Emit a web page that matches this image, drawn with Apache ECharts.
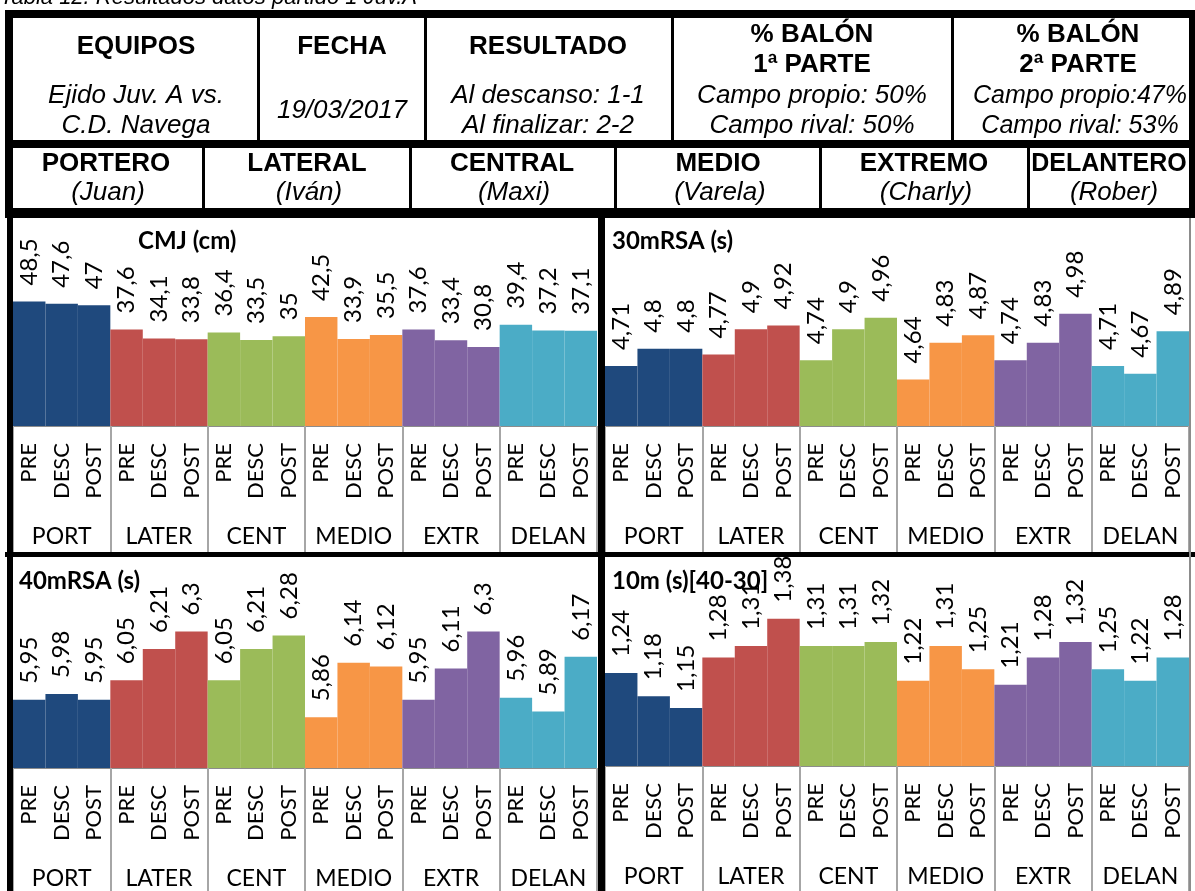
<!DOCTYPE html>
<html>
<head>
<meta charset="utf-8">
<script src="https://cdn.jsdelivr.net/npm/echarts@6/dist/echarts.min.js"></script>
<style>
  html, body { margin: 0; padding: 0; background: #fff; }
  #main { width: 1195px; height: 891px; }
</style>
</head>
<body>
<div id="main"></div>
<script>
// data
const groups = ['PORT', 'LATER', 'CENT', 'MEDIO', 'EXTR', 'DELAN'];
const moments = ['PRE', 'DESC', 'POST'];
const cmj = [48.5, 47.6, 47, 37.6, 34.1, 33.8, 36.4, 33.5, 35, 42.5, 33.9, 35.5, 37.6, 33.4, 30.8, 39.4, 37.2, 37.1];
const rsa30 = [4.71, 4.8, 4.8, 4.77, 4.9, 4.92, 4.74, 4.9, 4.96, 4.64, 4.83, 4.87, 4.74, 4.83, 4.98, 4.71, 4.67, 4.89];
const rsa40 = [5.95, 5.98, 5.95, 6.05, 6.21, 6.3, 6.05, 6.21, 6.28, 5.86, 6.14, 6.12, 5.95, 6.11, 6.3, 5.96, 5.89, 6.17];
const m10 = [1.24, 1.18, 1.15, 1.28, 1.31, 1.38, 1.31, 1.31, 1.32, 1.22, 1.31, 1.25, 1.21, 1.28, 1.32, 1.25, 1.22, 1.28];
const colors = ['#1F497D', '#C0504D', '#9BBB59', '#F79646', '#8064A2', '#4BACC6'];

const cats = [];
groups.forEach(g => moments.forEach(m => cats.push(g + '-' + m)));

const chartFont = 'Lato';
const tableFont = '"Liberation Sans", Arial';

// panels: min/max of hidden value axis, grid box
const panels = [
  { title: 'CMJ (cm)', data: cmj, min: 0, max: 60, left: 13, width: 584, top: 272, height: 154, tick: 126, tx: 138, ty: 229 },
  { title: '30mRSA (s)', data: rsa30, min: 4.4, max: 5.0, left: 605, width: 584, top: 310, height: 116, tick: 126, tx: 612, ty: 229 },
  { title: '40mRSA (s)', data: rsa40, min: 5.6, max: 6.4, left: 13, width: 584, top: 612, height: 156, tick: 125, tx: 19, ty: 569 },
  { title: '10m (s)[40-30]', data: m10, min: 1.0, max: 1.4, left: 605, width: 584, top: 611, height: 155, tick: 126, tx: 612, ty: 569 }
];

const grid = [], xAxis = [], yAxis = [], series = [], title = [];
panels.forEach((p, i) => {
  grid.push({ left: p.left, width: p.width, top: p.top, height: p.height });
  title.push({
    text: p.title, left: p.tx, top: p.ty, padding: 0,
    textStyle: { fontFamily: chartFont, fontWeight: 'bold', fontSize: 24, color: '#000' }
  });
  xAxis.push({
    type: 'category', gridIndex: i, data: cats, position: 'bottom',
    axisLine: { onZero: false, lineStyle: { color: '#8c8c8c', width: 1 } },
    axisTick: { show: false },
    axisLabel: {
      interval: 0, rotate: 90, margin: 17, color: '#000',
      fontFamily: chartFont, fontSize: 22,
      formatter: v => v.split('-')[1]
    }
  });
  xAxis.push({
    type: 'category', gridIndex: i, data: groups, position: 'bottom',
    axisLine: { show: false, onZero: false },
    axisTick: { show: true, length: p.tick, lineStyle: { color: '#a6a6a6', width: 2 } },
    axisLabel: { interval: 0, margin: 99, color: '#000', fontFamily: chartFont, fontSize: 23 }
  });
  yAxis.push({ type: 'value', gridIndex: i, min: p.min, max: p.max, show: false, splitLine: { show: false } });
  series.push({
    type: 'bar', xAxisIndex: i * 2, yAxisIndex: i,
    barCategoryGap: '0%',
    data: p.data.map((v, k) => ({ value: v, itemStyle: { color: colors[Math.floor(k / 3)] } })),
    label: {
      show: true, position: 'top', rotate: 90, distance: 16,
      align: 'left', verticalAlign: 'middle',
      color: '#000', fontFamily: chartFont, fontSize: 24,
      formatter: d => String(d.value).replace('.', ',')
    }
  });
});

// header table
function txt(x, y, s, font, align, vAlign) {
  return {
    type: 'text', x: x, y: y, z: 120,
    style: {
      text: s, font: font, fill: '#000',
      align: align || 'center', verticalAlign: vAlign || 'middle',
      textAlign: align || 'center', textVerticalAlign: vAlign || 'middle'
    }
  };
}
function box(x, y, w, h, c) {
  return { type: 'rect', z: 110, shape: { x: x, y: y, width: w, height: h }, style: { fill: c || '#000' } };
}
const B = 'bold 26px ' + tableFont;
const I = 'italic 26px ' + tableFont;
const I2 = 'italic 25px ' + tableFont;
const graphic = [
  txt(0, 9, 'Tabla 12. Resultados datos partido 1 Juv.A', 'italic 22px ' + tableFont, 'left', 'bottom'),
  // outer frame + row lines
  box(5, 10, 1190, 8),
  box(5, 10, 8, 208),
  box(1189, 10, 6, 208),
  box(5, 140, 1190, 8),
  box(5, 208, 1190, 10),
  // row 1 dividers
  box(257, 18, 3, 122), box(424, 18, 3, 122), box(671, 18, 3, 122), box(951, 18, 3, 122),
  // row 2 dividers
  box(202, 148, 3, 60), box(409, 148, 3, 60), box(614, 148, 3, 60), box(819, 148, 3, 60), box(1027, 148, 3, 60),
  // row 1 text
  txt(136, 47, 'EQUIPOS', B), txt(136, 96, 'Ejido Juv. A vs.', I), txt(136, 126, 'C.D. Navega', I),
  txt(342, 47, 'FECHA', B), txt(342, 111, '19/03/2017', I),
  txt(548, 47, 'RESULTADO', B), txt(548, 96, 'Al descanso: 1-1', I), txt(548, 126, 'Al finalizar: 2-2', I),
  txt(812, 35, '% BALÓN', B), txt(812, 65, '1ª PARTE', B), txt(812, 96, 'Campo propio: 50%', I), txt(812, 126, 'Campo rival: 50%', I),
  txt(1078, 35, '% BALÓN', B), txt(1078, 65, '2ª PARTE', B), txt(1080, 96, 'Campo propio:47%', I2), txt(1080, 126, 'Campo rival: 53%', I2),
  // row 2 text
  txt(106, 164, 'PORTERO', B), txt(108, 193, '(Juan)', I),
  txt(307, 164, 'LATERAL', B), txt(309, 193, '(Iván)', I),
  txt(512, 164, 'CENTRAL', B), txt(514, 193, '(Maxi)', I),
  txt(718, 164, 'MEDIO', B), txt(720, 193, '(Varela)', I),
  txt(924, 164, 'EXTREMO', B), txt(926, 193, '(Charly)', I),
  txt(1109, 164, 'DELANTERO', 'bold 25px ' + tableFont), txt(1114, 193, '(Rober)', I),
  // chart frames
  box(7, 218, 6, 673),
  box(598, 218, 7, 673),
  box(5, 552, 1190, 5),
  box(1189, 218, 2, 673, '#8c8c8c')
];

const chart = echarts.init(document.getElementById('main'));
chart.setOption({
  backgroundColor: '#fff',
  animation: false,
  title: title,
  grid: grid,
  xAxis: xAxis,
  yAxis: yAxis,
  series: series,
  graphic: graphic
});
</script>
</body>
</html>
